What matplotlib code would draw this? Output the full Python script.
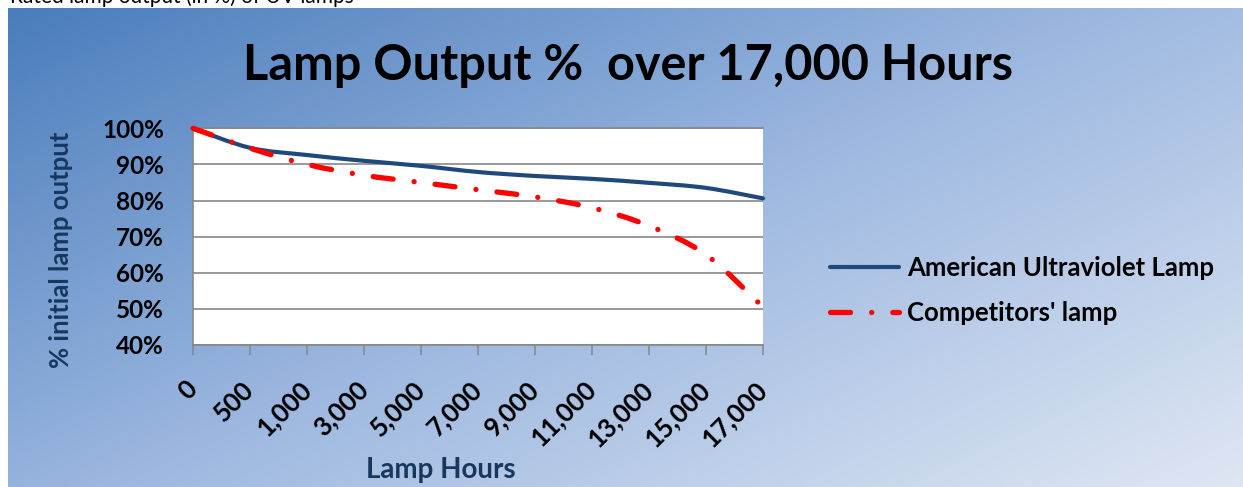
import matplotlib
matplotlib.use("Agg")
import matplotlib.pyplot as plt
import numpy as np
from matplotlib.path import Path
from matplotlib.patches import PathPatch
from matplotlib.lines import Line2D
from matplotlib.colors import LinearSegmentedColormap

hours = ["0", "500", "1,000", "3,000", "5,000", "7,000", "9,000",
         "11,000", "13,000", "15,000", "17,000"]
american = [100, 94.6, 92.6, 91.0, 89.6, 87.9, 86.8, 86.0, 84.9, 83.5, 80.6]
competitor = [100, 94.5, 90.0, 87.0, 85.0, 83.0, 81.0, 78.0, 73.0, 65.0, 50.5]
series_names = ["American Ultraviolet Lamp", "Competitors' lamp"]
yticks = [40, 50, 60, 70, 80, 90, 100]

plt.rcParams['font.family'] = ['Lato', 'DejaVu Sans']
plt.rcParams['font.weight'] = 'bold'

W, H = 1243, 487
BLUE = '#1F497D'
NAVY = '#17375E'
GRID = '#878787'
RED_DASH = (0, (3.8, 4.0, 0.01, 4.0))


def smooth_path(x, y):
    # catmull-rom through the points as bezier pieces (Excel style smoothed line)
    p = np.column_stack([x, y]).astype(float)
    pad = np.vstack([p[0], p, p[-1]])
    verts = [p[0]]
    codes = [Path.MOVETO]
    for i in range(len(p) - 1):
        p0, p1, p2, p3 = pad[i], pad[i + 1], pad[i + 2], pad[i + 3]
        verts += [p1 + (p2 - p0) / 6, p2 - (p3 - p1) / 6, p2]
        codes += [Path.CURVE4] * 3
    return Path(verts, codes)


fig = plt.figure(figsize=(W / 100, H / 100), dpi=100)

# gradient background of the chart area
bg = fig.add_axes([8 / W, 0, 1 - 8 / W, (H - 8) / H])
gx, gy = np.meshgrid(np.linspace(0, 1, 400), np.linspace(0, 1, 160))
cmap = LinearSegmentedColormap.from_list("bg", ["#4A7DBC", "#9DB8E0", "#DEE6F3"])
bg.imshow(0.55 * gx + 0.45 * gy, cmap=cmap, vmin=0, vmax=1, aspect='auto')
bg.axis('off')

# caption line of the page, cut off at the top edge
fig.text(10 / W, 1 - 3 / H, "Rated lamp output (in %) of UV lamps", fontsize=15,
         fontweight='normal', color='black', ha='left', va='baseline')

ax = fig.add_axes([193 / W, (H - 345) / H, 570 / W, (345 - 128.3) / H])
ax.set_facecolor('white')
x = np.arange(len(hours))

ax.add_patch(PathPatch(smooth_path(x, american), fill=False, edgecolor=BLUE,
                       lw=3.0, capstyle='round', joinstyle='round', clip_on=False, zorder=4))
ax.add_patch(PathPatch(smooth_path(x, competitor), fill=False, edgecolor='red',
                       lw=3.8, linestyle=RED_DASH, capstyle='round', clip_on=False, zorder=5))

ax.set_xlim(0, len(hours) - 1)
ax.set_ylim(40, 100)
ax.set_yticks(yticks, [f"{v}%" for v in yticks])
ax.set_xticks(x, hours, rotation=45, ha='right', va='center', rotation_mode='anchor')
ax.tick_params(axis='y', length=0, pad=21, labelsize=17.5)
ax.tick_params(axis='x', length=7, width=1.1, color=GRID, direction='out', pad=22, labelsize=18.5)
ax.yaxis.grid(True, color=GRID, lw=1.2)
ax.set_axisbelow(True)
for side in ['left', 'bottom', 'top']:
    ax.spines[side].set_color(GRID)
    ax.spines[side].set_linewidth(1.2)
ax.spines['right'].set_visible(False)

fig.text(628 / W, 1 - 66 / H, "Lamp Output %  over 17,000 Hours", fontsize=35,
         ha='center', va='center', color='black')
fig.text(61 / W, 1 - 250 / H, "% initial lamp output", rotation=90, fontsize=18.5,
         ha='center', va='center', color=NAVY)
fig.text(441 / W, 1 - 470 / H, "Lamp Hours", fontsize=20, ha='center', va='center', color=NAVY)

handles = [Line2D([], [], color=BLUE, lw=3.0, solid_capstyle='round'),
           Line2D([], [], color='red', lw=3.8, linestyle=RED_DASH, dash_capstyle='round')]
fig.legend(handles, series_names, loc='center left', bbox_to_anchor=(830 / W, 1 - 290.5 / H),
           frameon=False, fontsize=18.5, handlelength=2.7, handletextpad=0.3,
           labelspacing=0.85, borderpad=0, borderaxespad=0)

fig.savefig("out.png", dpi=100)
